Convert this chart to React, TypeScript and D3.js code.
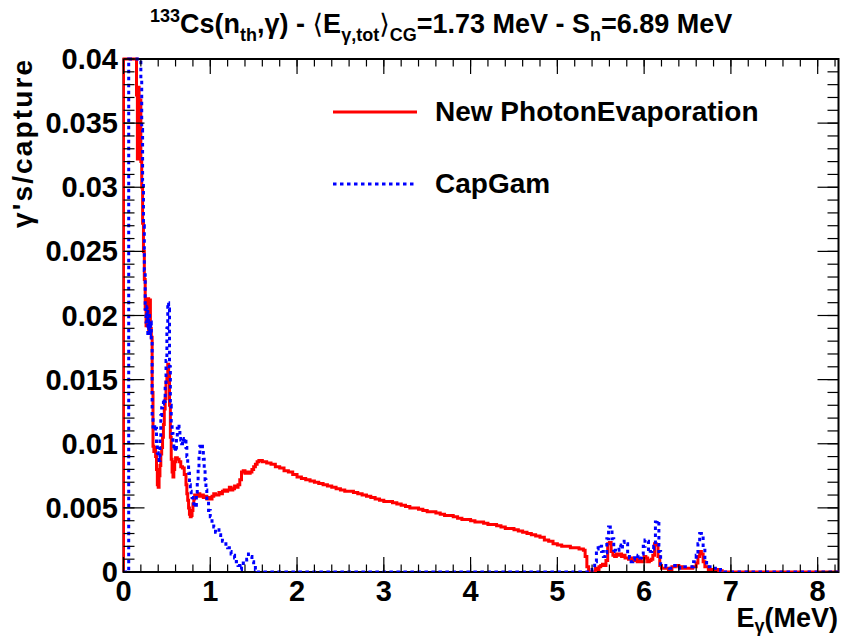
import React from 'react';
import * as d3 from 'd3';

// ---------- axis setup ----------
const X_MAX = 8.24;
const Y_MAX = 0.04;
const xMajorTicks = [0, 1, 2, 3, 4, 5, 6, 7, 8];
const xTickLabels = ['0', '1', '2', '3', '4', '5', '6', '7', '8'];
const yMajorTicks = [0, 0.005, 0.01, 0.015, 0.02, 0.025, 0.03, 0.035, 0.04];
const yTickLabels = ['0', '0.005', '0.01', '0.015', '0.02', '0.025', '0.03', '0.035', '0.04'];

// ---------- New PhotonEvaporation (bin low edge, content) ----------
const photonEvapE = [
  0, 0.15, 0.16, 0.17, 0.18, 0.19, 0.2, 0.21, 0.22, 0.23, 0.24, 0.25, 0.26, 0.27, 0.28, 0.29,
  0.3, 0.31, 0.32, 0.33, 0.34, 0.35, 0.36, 0.37, 0.38, 0.39, 0.4, 0.41, 0.42, 0.43, 0.44, 0.45,
  0.46, 0.47, 0.48, 0.49, 0.5, 0.51, 0.52, 0.53, 0.54, 0.55, 0.56, 0.57, 0.58, 0.59, 0.6, 0.62,
  0.64, 0.66, 0.68, 0.7, 0.72, 0.73, 0.74, 0.75, 0.76, 0.77, 0.78, 0.79, 0.8, 0.81, 0.82, 0.84,
  0.86, 0.88, 0.9, 0.92, 0.94, 0.96, 0.98, 1.0, 1.02, 1.04, 1.06, 1.08, 1.1, 1.12, 1.14, 1.16,
  1.18, 1.2, 1.22, 1.24, 1.26, 1.28, 1.3, 1.32, 1.34, 1.36, 1.38, 1.4, 1.42, 1.44, 1.46, 1.48,
  1.5, 1.52, 1.54, 1.56, 1.58,
  1.6, 1.65, 1.7, 1.75, 1.8, 1.85, 1.9, 1.95, 2.0, 2.05, 2.1, 2.15, 2.2, 2.25, 2.3, 2.35, 2.4,
  2.45, 2.5, 2.55, 2.6, 2.65, 2.7, 2.75, 2.8, 2.85, 2.9, 2.95, 3.0, 3.05, 3.1, 3.15, 3.2, 3.25,
  3.3, 3.35, 3.4, 3.45, 3.5, 3.55, 3.6, 3.65, 3.7, 3.75, 3.8, 3.85, 3.9, 3.95, 4.0, 4.05, 4.1,
  4.15, 4.2, 4.25, 4.3, 4.35, 4.4, 4.45, 4.5, 4.55, 4.6, 4.65, 4.7, 4.75, 4.8, 4.85, 4.9, 4.95,
  5.0, 5.05, 5.1, 5.15, 5.2, 5.25, 5.3,
  5.32, 5.34, 5.36, 5.44, 5.46, 5.48, 5.5, 5.52, 5.54, 5.56, 5.58,
  5.6, 5.62, 5.64, 5.66, 5.68, 5.7, 5.72, 5.74, 5.76, 5.78, 5.8, 5.82, 5.84, 5.86, 5.88, 5.9,
  5.92, 5.94, 5.96, 5.98, 6.0, 6.02, 6.04, 6.06, 6.08, 6.1, 6.12, 6.14, 6.16, 6.18, 6.2, 6.24,
  6.28, 6.32, 6.36, 6.4, 6.44, 6.48, 6.52, 6.56, 6.6, 6.62, 6.64, 6.66, 6.68, 6.7, 6.74, 6.8,
  6.86, 6.9,
];
const photonEvapV = [
  0.06, 0.0372, 0.0322, 0.0378, 0.0325, 0.0368, 0.032, 0.03, 0.0272, 0.025, 0.0228, 0.0205,
  0.0192, 0.02, 0.0213, 0.0186, 0.0212, 0.019, 0.0183, 0.014, 0.0098, 0.0094, 0.0097, 0.009,
  0.008, 0.0068, 0.0066, 0.0075, 0.0083, 0.0092, 0.0097, 0.0105, 0.0115, 0.0127, 0.0135, 0.0148,
  0.0152, 0.0162, 0.0155, 0.013, 0.0105, 0.0088, 0.0078, 0.0074, 0.008, 0.0086, 0.0089, 0.0088,
  0.0086, 0.0082, 0.0081, 0.0076, 0.0068, 0.0061, 0.0056, 0.005, 0.0045, 0.0043, 0.0044, 0.0048,
  0.0053, 0.0057, 0.006, 0.0059, 0.0061, 0.0059, 0.006, 0.0058, 0.0059, 0.0057, 0.0058, 0.0057,
  0.0059, 0.0061, 0.006, 0.006, 0.0062, 0.0061, 0.0063, 0.0064, 0.0063, 0.0064, 0.0066, 0.0064,
  0.0065, 0.0067, 0.0066, 0.0068, 0.0072, 0.0078, 0.0079, 0.0077, 0.0078, 0.0077, 0.0078, 0.008,
  0.0082, 0.0084, 0.0086, 0.0087, 0.0087,
  0.0086, 0.0085, 0.0084, 0.0082, 0.0081, 0.0079, 0.0078, 0.0076, 0.0074, 0.0073, 0.0072,
  0.0071, 0.007, 0.0069, 0.0068, 0.0067, 0.0066, 0.0065, 0.0064, 0.0063, 0.0063, 0.0062, 0.0061,
  0.006, 0.0059, 0.0058, 0.0057, 0.0056, 0.0055, 0.0055, 0.0054, 0.0053, 0.0052, 0.0051, 0.005,
  0.005, 0.0049, 0.0048, 0.0047, 0.0047, 0.0046, 0.0045, 0.0044, 0.0044, 0.0043, 0.0042, 0.0041,
  0.0041, 0.004, 0.0039, 0.0039, 0.0038, 0.0037, 0.0037, 0.0036, 0.0035, 0.0034, 0.0034, 0.0033,
  0.0032, 0.0031, 0.003, 0.0029, 0.0028, 0.0027, 0.0025, 0.0024, 0.0022, 0.0021, 0.002, 0.002,
  0.0019, 0.0019, 0.0018, 0.0017,
  0.0012, 0.0004, 0.0, 0.0003, 0.0002, 0.0004, 0.0005, 0.0006, 0.0005, 0.0009, 0.0022,
  0.0023, 0.0016, 0.0013, 0.0012, 0.0014, 0.0013, 0.0014, 0.0012, 0.0013, 0.0011, 0.0011, 0.001,
  0.0011, 0.0009, 0.0009, 0.001, 0.0008, 0.0009, 0.0008, 0.0008, 0.0012, 0.0011, 0.0008, 0.0009,
  0.001, 0.0013, 0.0022, 0.0021, 0.0012, 0.0005, 0.0003, 0.0003, 0.0002, 0.0004, 0.0005, 0.0004,
  0.0003, 0.0003, 0.0003, 0.0004, 0.0007, 0.0012, 0.0016, 0.0014, 0.0008, 0.0004, 0.0002, 0.0002,
  0.0001, 0.0,
];

// ---------- CapGam (bin low edge, content) ----------
const capGamE = [
  0, 0.06, 0.2, 0.21, 0.22, 0.23, 0.24, 0.25, 0.26, 0.27, 0.28, 0.29, 0.3, 0.31, 0.32, 0.33,
  0.34, 0.35, 0.36, 0.37, 0.38, 0.39, 0.4, 0.41, 0.42, 0.43, 0.44, 0.45, 0.46, 0.47, 0.48, 0.49,
  0.5, 0.51, 0.52, 0.53, 0.54, 0.55, 0.56, 0.57, 0.58, 0.59, 0.6, 0.61, 0.62, 0.63, 0.64, 0.65,
  0.66, 0.67, 0.68, 0.69, 0.7, 0.71, 0.72, 0.73, 0.74, 0.75, 0.76, 0.77, 0.78, 0.79, 0.8, 0.81,
  0.82, 0.83, 0.84, 0.85, 0.86, 0.87, 0.88, 0.89, 0.9, 0.91, 0.92, 0.93, 0.94, 0.95, 0.96, 0.98,
  1.0, 1.02, 1.04, 1.06, 1.08, 1.1, 1.12, 1.14, 1.16, 1.18, 1.2, 1.22, 1.24, 1.26, 1.28, 1.3,
  1.32, 1.34, 1.36, 1.38, 1.4, 1.42, 1.44, 1.46, 1.48, 1.5, 1.52, 1.54, 5.4, 5.43, 5.45, 5.47,
  5.49, 5.51, 5.53, 5.55, 5.57, 5.59, 5.61, 5.63, 5.65, 5.67, 5.69, 5.71, 5.73, 5.75, 5.77, 5.79,
  5.81, 5.83, 5.85, 5.87, 5.89, 5.91, 5.93, 5.95, 5.97, 5.99, 6.01, 6.03, 6.05, 6.07, 6.09, 6.11,
  6.13, 6.15, 6.17, 6.19, 6.21, 6.25, 6.29, 6.33, 6.37, 6.41, 6.45, 6.49, 6.53, 6.57, 6.6, 6.62,
  6.64, 6.66, 6.68, 6.7, 6.72, 6.76, 6.8, 6.84, 6.88, 6.92,
];
const capGamV = [
  0, 0.06, 0.0385, 0.0345, 0.0305, 0.027, 0.0235, 0.0205, 0.0195, 0.0207, 0.0186, 0.02, 0.0185,
  0.0195, 0.018, 0.012, 0.0113, 0.0115, 0.011, 0.0112, 0.01, 0.0093, 0.0089, 0.0087, 0.0105,
  0.0122, 0.0128, 0.0131, 0.0135, 0.0133, 0.0145, 0.0165, 0.019, 0.021, 0.0205, 0.016, 0.013,
  0.0115, 0.0108, 0.01, 0.0095, 0.0096, 0.0094, 0.0105, 0.0112, 0.0115, 0.011, 0.0106, 0.0103,
  0.01, 0.0104, 0.0103, 0.0104, 0.0102, 0.0097, 0.009, 0.0085, 0.0077, 0.0068, 0.0063, 0.006,
  0.0058, 0.0055, 0.0053, 0.0054, 0.0052, 0.006, 0.007, 0.008, 0.009, 0.0098, 0.0096, 0.0098,
  0.0095, 0.0088, 0.008, 0.0072, 0.0064, 0.0056, 0.0048, 0.0043, 0.0038, 0.0035, 0.0031, 0.0033,
  0.0029, 0.0027, 0.0024, 0.0022, 0.002, 0.0019, 0.0016, 0.0014, 0.0013, 0.0011, 0.0008, 0.0005,
  0.0002, 0.0004, 0.0007, 0.0008, 0.001, 0.0014, 0.0012, 0.0008, 0.0005, 0.0002, 0, 0.0002,
  0.0008, 0.0018, 0.0021, 0.002, 0.0016, 0.0012, 0.0015, 0.0026, 0.0035, 0.0033, 0.0026, 0.0017,
  0.0016, 0.0017, 0.0021, 0.0018, 0.0023, 0.0024, 0.0022, 0.0014, 0.0011, 0.0008, 0.001, 0.0013,
  0.0012, 0.0013, 0.0011, 0.0014, 0.002, 0.0025, 0.0024, 0.0015, 0.0016, 0.0018, 0.002, 0.0039,
  0.004, 0.0016, 0.0006, 0.0005, 0.0004, 0.0003, 0.0005, 0.0005, 0.0003, 0.0004, 0.0004, 0.0004,
  0.0008, 0.0013, 0.0022, 0.003, 0.0028, 0.0017, 0.001, 0.0004, 0.0003, 0.0003, 0.0002, 0.0001, 0,
];

const W = 842;
const H = 638;
const L = 123.5;
const R = 838.5;
const T = 59;
const B = 572;
const FONT = "'Liberation Sans', Arial, Helvetica, sans-serif";

export default function App() {
  const x = d3.scaleLinear().domain([0, X_MAX]).range([L, R]);
  const y = d3.scaleLinear().domain([0, Y_MAX]).range([B, T]).clamp(true);
  const line = d3
    .line<[number, number]>()
    .x((d) => x(d[0]))
    .y((d) => y(d[1]))
    .curve(d3.curveStepAfter);

  const toPts = (E: number[], V: number[]): [number, number][] => {
    const pts: [number, number][] = [[0, 0]];
    E.forEach((e, i) => pts.push([e, V[i]]));
    pts.push([X_MAX, V[V.length - 1]]);
    return pts;
  };
  const redPath = line(toPts(photonEvapE, photonEvapV)) || '';
  const bluePath = line(toPts(capGamE, capGamV)) || '';

  const xMinor = d3.range(0, 42).map((i) => +(i * 0.2).toFixed(2)).filter((v) => v <= X_MAX);
  const yMinor = d3.range(0, 41).map((i) => +(i * 0.001).toFixed(4));

  const xMajLen = 15;
  const xMinLen = 7.5;
  const yMajLen = 21;
  const yMinLen = 11;

  return (
    <svg
      width={W}
      height={H}
      style={{ position: 'absolute', left: 0, top: 0, background: '#fff' }}
      fontFamily={FONT}
    >
      <rect x={0} y={0} width={W} height={H} fill="#fff" />
      <defs>
        <clipPath id="plotclip">
          <rect x={L - 1} y={T - 2} width={R - L + 2} height={B - T + 2} />
        </clipPath>
      </defs>

      {/* frame */}
      <rect x={L} y={T} width={R - L} height={B - T} fill="none" stroke="#000" strokeWidth={2} />

      {/* data */}
      <g clipPath="url(#plotclip)">
        <path d={redPath} fill="none" stroke="#ff0000" strokeWidth={3} strokeLinejoin="miter" />
        <path d={bluePath} fill="none" stroke="#0000ff" strokeWidth={3} strokeDasharray="3.5 3.5" />
      </g>

      {/* ticks */}
      <g stroke="#000" strokeWidth={1.2}>
        {xMinor.map((v, i) => (
          <g key={'xm' + i}>
            <line x1={x(v)} x2={x(v)} y1={B} y2={B - xMinLen} />
            <line x1={x(v)} x2={x(v)} y1={T} y2={T + xMinLen} />
          </g>
        ))}
        {xMajorTicks.map((v, i) => (
          <g key={'xM' + i}>
            <line x1={x(v)} x2={x(v)} y1={B} y2={B - xMajLen} />
            <line x1={x(v)} x2={x(v)} y1={T} y2={T + xMajLen} />
          </g>
        ))}
        {yMinor.map((v, i) => (
          <g key={'ym' + i}>
            <line x1={L} x2={L + yMinLen} y1={y(v)} y2={y(v)} />
            <line x1={R} x2={R - yMinLen} y1={y(v)} y2={y(v)} />
          </g>
        ))}
        {yMajorTicks.map((v, i) => (
          <g key={'yM' + i}>
            <line x1={L} x2={L + yMajLen} y1={y(v)} y2={y(v)} />
            <line x1={R} x2={R - yMajLen} y1={y(v)} y2={y(v)} />
          </g>
        ))}
      </g>

      {/* tick labels */}
      <g fontSize={29} fontWeight="bold" fill="#000">
        {xMajorTicks.map((v, i) => (
          <text key={'xl' + i} x={x(v)} y={601} textAnchor="middle">
            {xTickLabels[i]}
          </text>
        ))}
        {yMajorTicks.map((v, i) => (
          <text key={'yl' + i} x={118} y={y(v) + 10} textAnchor="end">
            {yTickLabels[i]}
          </text>
        ))}
      </g>

      {/* axis titles */}
      <text x={838} y={627} textAnchor="end" fontSize={27} fontWeight="bold">
        E
        <tspan fontSize={18} dy={5}>γ</tspan>
        <tspan fontSize={27} dy={-5}>(MeV)</tspan>
      </text>
      <text
        transform="translate(32,60) rotate(-90)"
        x={0}
        y={0}
        textAnchor="end"
        fontSize={28}
        fontWeight="bold"
        textLength={168}
        lengthAdjust="spacing"
      >
        γ's/capture
      </text>

      {/* title */}
      <text x={150} y={33} fontSize={27} fontWeight="bold">
        <tspan fontSize={18} dy={-11}>133</tspan>
        <tspan fontSize={27} dy={11}>Cs(n</tspan>
        <tspan fontSize={18} dy={8}>th</tspan>
        <tspan fontSize={27} dy={-8}>,γ) - </tspan>
        <tspan fontSize={27} fontFamily="'DejaVu Sans', sans-serif" fontWeight="normal">⟨</tspan>
        <tspan fontSize={27}>E</tspan>
        <tspan fontSize={18} dy={8}>γ,tot</tspan>
        <tspan fontSize={27} dy={-8} fontFamily="'DejaVu Sans', sans-serif" fontWeight="normal">⟩</tspan>
        <tspan fontSize={18} dy={8}>CG</tspan>
        <tspan fontSize={27} dy={-8}>=1.73 MeV - S</tspan>
        <tspan fontSize={18} dy={8}>n</tspan>
        <tspan fontSize={27} dy={-8}>=6.89 MeV</tspan>
      </text>

      {/* legend */}
      <line x1={333} x2={417} y1={112} y2={112} stroke="#ff0000" strokeWidth={3} />
      <text x={435} y={121} fontSize={28} fontWeight="bold">New PhotonEvaporation</text>
      <line x1={333} x2={417} y1={184} y2={184} stroke="#0000ff" strokeWidth={3} strokeDasharray="3.5 3.5" />
      <text x={435} y={193} fontSize={28} fontWeight="bold">CapGam</text>
    </svg>
  );
}
